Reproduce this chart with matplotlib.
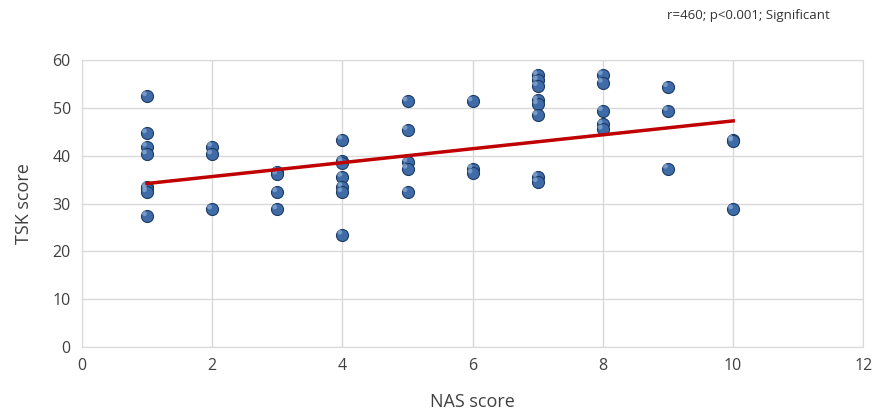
import matplotlib
matplotlib.use("Agg")
import matplotlib.pyplot as plt
import numpy as np

plt.rcParams['font.family'] = ['Open Sans', 'DejaVu Sans']

# NAS score -> TSK score
nas = [1, 1, 1, 1, 1, 1, 1, 1,
       2, 2, 2,
       3, 3, 3, 3,
       4, 4, 4, 4, 4, 4, 4,
       5, 5, 5, 5, 5,
       6, 6, 6,
       7, 7, 7, 7, 7, 7, 7, 7,
       8, 8, 8, 8, 8,
       9, 9, 9,
       10, 10, 10]
tsk = [52.5, 44.7, 41.9, 40.3, 33.5, 33.0, 32.4, 27.4,
       41.9, 40.3, 28.8,
       36.6, 36.1, 32.4, 28.8,
       43.4, 38.9, 38.4, 35.6, 33.5, 32.4, 23.5,
       51.4, 45.4, 38.7, 37.3, 32.4,
       51.4, 37.3, 36.3,
       56.9, 55.8, 54.6, 51.6, 50.8, 48.5, 35.6, 34.5,
       56.9, 55.3, 49.4, 46.6, 45.5,
       54.4, 49.4, 37.3,
       43.4, 43.0, 28.8]

# trend line as drawn in the source (ends)
trend_x = [1, 10]
trend_y = [34.2, 47.3]

stat_text = "r=460; p<0.001; Significant"

fig = plt.figure(figsize=(8.81, 4.18), dpi=100)
ax = fig.add_axes([0.093, 0.170, 0.887, 0.686])

ax.scatter(nas, tsk, s=75, color="#3f6ca8", edgecolors="#1d3a63",
           linewidths=0.8, zorder=3)
# small highlight to get the glossy ball look
ax.scatter(np.array(nas) - 0.04, np.array(tsk) + 0.5, s=12, color="#8fb0d8",
           edgecolors="none", alpha=0.7, zorder=4)

ax.plot(trend_x, trend_y, color="#c00000", linewidth=2.5, zorder=5)

ax.set_xlim(0, 12)
ax.set_ylim(0, 60)
ax.set_xticks(range(0, 13, 2))
ax.set_yticks(range(0, 61, 10))
ax.grid(True, color="#d9d9d9", linewidth=1)
ax.set_axisbelow(True)
for sp in ax.spines.values():
    sp.set_color("#d9d9d9")
ax.tick_params(length=0, labelsize=11.5, colors="#404040", pad=8)

ax.set_xlabel("NAS score", fontsize=13, color="#404040", labelpad=14)
ax.set_ylabel("TSK score", fontsize=13, color="#404040", labelpad=14)

fig.text(0.849, 0.962, stat_text, fontsize=9.5, color="#333333",
         ha="center", va="center")

fig.savefig("out.png", dpi=100)
